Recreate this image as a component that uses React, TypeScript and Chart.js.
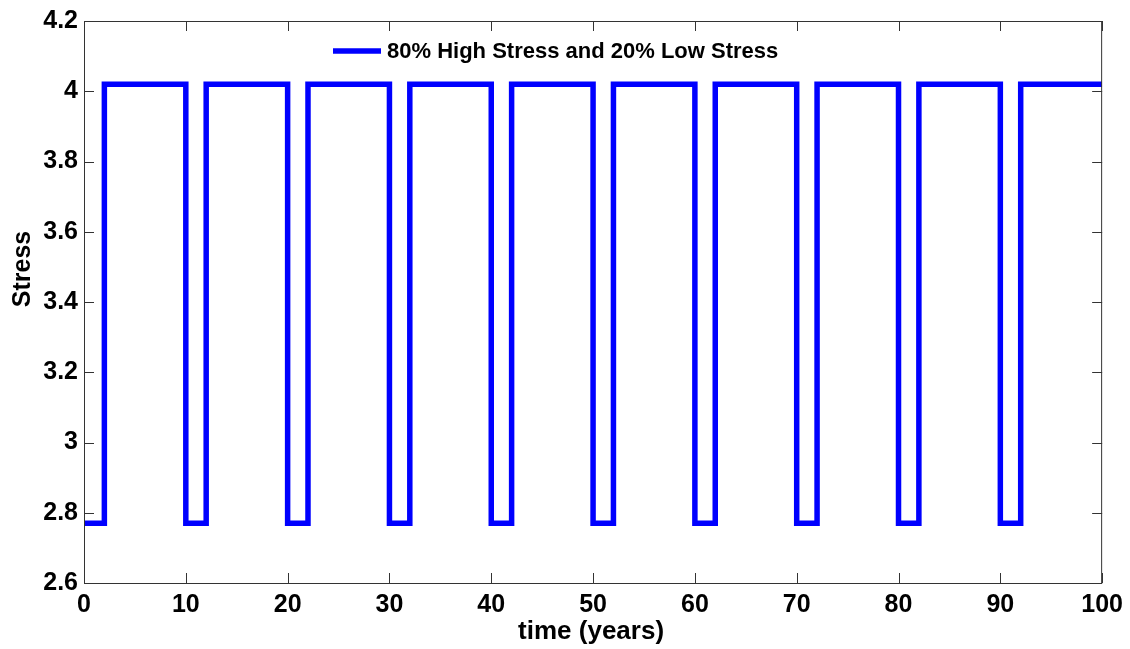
import React, { useEffect, useRef } from "react";
import { Chart, registerables } from "chart.js";

Chart.register(...registerables);

// Stress regime: 2 years of low stress followed by 8 years of high stress, repeated
const switchTimes = [0, 2, 10, 12, 20, 22, 30, 32, 40, 42, 50, 52, 60, 62, 70, 72, 80, 82, 90, 92, 100];
const stressLevels = [2.77, 4.02, 2.77, 4.02, 2.77, 4.02, 2.77, 4.02, 2.77, 4.02, 2.77, 4.02, 2.77, 4.02, 2.77, 4.02, 2.77, 4.02, 2.77, 4.02, 4.02];
const seriesLabel = "80% High Stress and 20% Low Stress";
const xTicks = [0, 10, 20, 30, 40, 50, 60, 70, 80, 90, 100];
const yTicks = [2.6, 2.8, 3, 3.2, 3.4, 3.6, 3.8, 4, 4.2];
const xTitle = "time (years)";
const yTitle = "Stress";

const FONT = '"Liberation Sans", Arial, Helvetica, sans-serif';
const LINE_BLUE = "#0000ff";

// Draws the MATLAB-style box with inward ticks, axis titles and an inline legend
const boxPlugin = {
  id: "matlabBox",
  afterDraw(chart: any) {
    const { ctx, chartArea } = chart;
    const { left, right, top, bottom } = chartArea;
    const xs = chart.scales.x;
    const ys = chart.scales.y;
    const tick = 10;
    ctx.save();
    ctx.lineWidth = 1;
    ctx.strokeStyle = "#333333";
    ctx.beginPath();
    ctx.rect(left + 0.5, top + 0.5, right - left - 1, bottom - top);
    ctx.stroke();

    ctx.beginPath();
    for (const v of xTicks) {
      const px = Math.round(xs.getPixelForValue(v)) + 0.5;
      ctx.moveTo(px, bottom);
      ctx.lineTo(px, bottom - tick);
      ctx.moveTo(px, top);
      ctx.lineTo(px, top + tick);
    }
    for (const v of yTicks) {
      const py = Math.round(ys.getPixelForValue(v)) + 0.5;
      ctx.moveTo(left, py);
      ctx.lineTo(left + tick, py);
      ctx.moveTo(right, py);
      ctx.lineTo(right - tick, py);
    }
    ctx.stroke();

    // axis titles
    ctx.fillStyle = "#000000";
    ctx.font = `bold 26px ${FONT}`;
    ctx.textAlign = "center";
    ctx.textBaseline = "middle";
    ctx.fillText(xTitle, (left + right) / 2 - 2, 632);

    ctx.save();
    ctx.translate(23, 269);
    ctx.rotate(-Math.PI / 2);
    ctx.font = `bold 25px ${FONT}`;
    ctx.fillText(yTitle, 0, 0);
    ctx.restore();

    // legend
    const ds = chart.data.datasets[0];
    ctx.strokeStyle = ds.borderColor;
    ctx.lineWidth = 5.5;
    ctx.beginPath();
    ctx.moveTo(333, 51);
    ctx.lineTo(381, 51);
    ctx.stroke();
    ctx.font = `bold 22px ${FONT}`;
    ctx.textAlign = "left";
    ctx.textBaseline = "middle";
    ctx.fillStyle = "#000000";
    ctx.fillText(ds.label, 387, 52);
    ctx.restore();
  },
};

export default function App() {
  const canvasRef = useRef<HTMLCanvasElement | null>(null);

  useEffect(() => {
    if (!canvasRef.current) return;
    const points = switchTimes.map((t, i) => ({ x: t, y: stressLevels[i] }));
    const chart = new Chart(canvasRef.current, {
      type: "line",
      data: {
        datasets: [
          {
            label: seriesLabel,
            data: points,
            borderColor: LINE_BLUE,
            backgroundColor: LINE_BLUE,
            borderWidth: 5.5,
            stepped: "before",
            pointRadius: 0,
            borderJoinStyle: "miter",
            borderCapStyle: "butt",
            fill: false,
          },
        ],
      },
      options: {
        animation: false,
        responsive: true,
        maintainAspectRatio: false,
        layout: { padding: { left: 0, right: 27, top: 19, bottom: 0 } },
        plugins: {
          legend: { display: false },
          tooltip: { enabled: false },
        },
        scales: {
          x: {
            type: "linear",
            min: 0,
            max: 100,
            afterBuildTicks: (scale: any) => {
              scale.ticks = xTicks.map((v) => ({ value: v }));
            },
            afterFit: (scale: any) => {
              scale.height = 66;
            },
            grid: { display: false, drawTicks: false },
            border: { display: false },
            ticks: {
              padding: 7,
              color: "#000000",
              font: { family: FONT, size: 25, weight: "bold" },
              maxRotation: 0,
              autoSkip: false,
            },
          },
          y: {
            type: "linear",
            min: 2.6,
            max: 4.2,
            afterBuildTicks: (scale: any) => {
              scale.ticks = yTicks.map((v) => ({ value: v }));
            },
            afterFit: (scale: any) => {
              scale.width = 84;
            },
            grid: { display: false, drawTicks: false },
            border: { display: false },
            ticks: {
              padding: 6,
              color: "#000000",
              font: { family: FONT, size: 25, weight: "bold" },
              autoSkip: false,
              callback: (v: any) => String(Number(Number(v).toFixed(1))),
            },
          },
        },
      },
      plugins: [boxPlugin],
    });
    return () => chart.destroy();
  }, []);

  return (
    <div style={{ position: "absolute", left: 0, top: 0, width: 1130, height: 649, background: "#ffffff" }}>
      <canvas ref={canvasRef} />
    </div>
  );
}
